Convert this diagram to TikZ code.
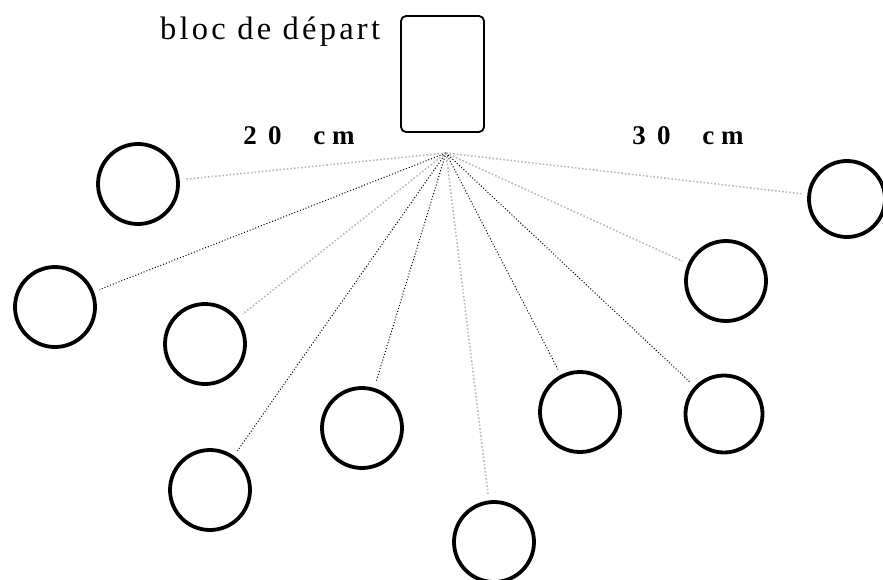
\documentclass[tikz,border=0pt]{standalone}
\usepackage{fontspec}
\setmainfont{Liberation Serif}
\newfontfamily\spacedserif[LetterSpace=10]{Liberation Serif}
\usetikzlibrary{positioning}

\begin{document}
\begin{tikzpicture}[
        x=1pt, y=-1pt,
        spot/.style={circle, draw, line width=3.8pt, minimum size=80pt, inner sep=0pt},
        ray/.style={dotted, line width=1pt, shorten >=6pt},
        fray/.style={dotted, line width=1.6pt, gray!55, shorten >=6pt},
        dist/.style={anchor=base, inner sep=0pt, font=\fontsize{27}{32}\selectfont\bfseries}
    ]
    \useasboundingbox (0,0) rectangle (883,580);

    % starting block and its label
    \node[draw, rounded corners=5pt, line width=1.8pt, minimum width=83pt, minimum height=116pt] (bloc) at (442.5,74) {};
    \node[anchor=base west, inner sep=0pt, font=\spacedserif\fontsize{32.5}{38}\selectfont] (label) at (160,40) {bloc de départ};

    % distances
    \node[dist] (d20) at (299,145) {2\hspace{11.5pt}0\hspace{31.5pt}c\hspace{7pt}m};
    \node[dist] (d30) at (688,145) {3\hspace{11.5pt}0\hspace{31.5pt}c\hspace{7pt}m};

    % hub
    \coordinate (hub) at (446,153);

    % targets
    \node[spot] (c1) at (138,184) {};
    \node[spot] (c2) at (55,307) {};
    \node[spot] (c3) at (205,344) {};
    \node[spot] (c4) at (362,428) {};
    \node[spot] (c5) at (210,490) {};
    \node[spot] (c6) at (494,542) {};
    \node[spot] (c7) at (580,412) {};
    \node[spot, minimum size=77pt] (c8) at (724,414) {};
    \node[spot] (c9) at (726,281) {};
    \node[spot, minimum size=76pt] (c10) at (847,199) {};

    % rays
    \draw[fray] (hub) -- (c1);
    \draw[ray] (hub) -- (c2);
    \draw[fray] (hub) -- (c3);
    \draw[ray] (hub) -- (c4);
    \draw[ray] (hub) -- (c5);
    \draw[fray] (hub) -- (c6);
    \draw[ray] (hub) -- (c7);
    \draw[ray] (hub) -- (c8);
    \draw[fray] (hub) -- (c9);
    \draw[fray] (hub) -- (c10);

\end{tikzpicture}
\end{document}
